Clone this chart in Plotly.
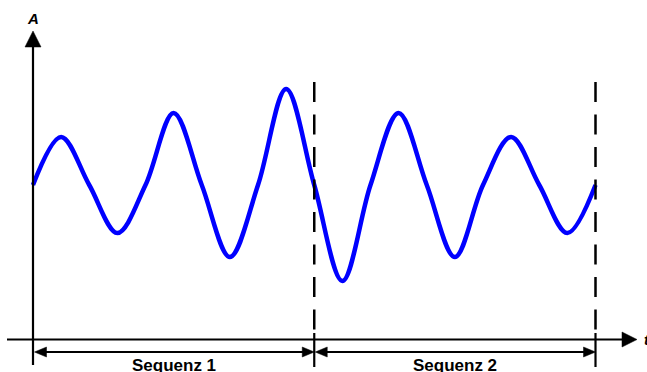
import plotly.graph_objects as go

# ---- data ----
t_vals = [0, 0.25, 0.5, 0.75, 1.0, 1.25, 1.5, 1.75, 2.0, 2.25, 2.5,
          2.75, 3.0, 3.25, 3.5, 3.75, 4.0, 4.25, 4.5, 4.75, 5.0]
a_vals = [0, 2, 0, -2, 0, 3, 0, -3, 0, 4, 0,
          -4, 0, 3, 0, -3, 0, 2, 0, -2, 0]
seq_bounds = [0, 2.5, 5.0]
seq_labels = ["Sequenz 1", "Sequenz 2"]
y_label = "A"
x_label = "t"

# ---- layout geometry ----
W, H = 647, 372
PX_X = 112.5   # pixels per x unit
PX_Y = 24.0    # pixels per y unit
X0 = -33 / PX_X
X1 = X0 + W / PX_X
Y1 = 185 / PX_Y
Y0 = Y1 - H / PX_Y


def dx(p):
    return p / PX_X


def dy(p):
    return p / PX_Y


def ypix(py):
    return Y1 - py / PX_Y


def xpix(px):
    return X0 + px / PX_X


BLACK = "#000000"
FONT = "Liberation Sans, Arial, sans-serif"

fig = go.Figure()
fig.add_trace(go.Scatter(
    x=t_vals, y=a_vals, mode="lines",
    line=dict(color="#0000FF", width=4.5, shape="spline", smoothing=1.0),
    hoverinfo="skip", showlegend=False))

shapes = []


def seg(x0, y0, x1, y1, width=2, dash="solid"):
    shapes.append(dict(type="line", xref="x", yref="y", x0=x0, y0=y0,
                       x1=x1, y1=y1, line=dict(color=BLACK, width=width, dash=dash),
                       layer="above"))


def tri(pts):
    path = "M " + " L ".join(f"{a},{b}" for a, b in pts) + " Z"
    shapes.append(dict(type="path", xref="x", yref="y", path=path,
                       fillcolor=BLACK, line=dict(color=BLACK, width=0.5),
                       layer="above"))


x_axis_y = ypix(339.5)
y_axis_top = ypix(31)
# y axis
seg(0, ypix(365), 0, ypix(44), width=2.2)
tri([(0, y_axis_top), (-dx(8), y_axis_top - dy(16)), (dx(8), y_axis_top - dy(16))])
# x axis
x_tip = xpix(637)
seg(xpix(7), x_axis_y, x_tip - dx(10), x_axis_y, width=2.2)
tri([(x_tip, x_axis_y), (x_tip - dx(15), x_axis_y + dy(7.5)), (x_tip - dx(15), x_axis_y - dy(7.5))])

# sequence boundaries (dashed) and extension lines
for b in seq_bounds[1:]:
    seg(b, ypix(82), b, ypix(330), width=2.5, dash="20px,12.5px")
    seg(b, ypix(333), b, ypix(367), width=2.2)

# dimension arrows
dim_y = ypix(352)
for i in range(len(seq_bounds) - 1):
    a, b = seq_bounds[i], seq_bounds[i + 1]
    a2 = a + dx(1.5) if i == 0 else a + dx(1)
    seg(a2 + dx(8), dim_y, b - dx(8), dim_y, width=2.2)
    tri([(a2, dim_y), (a2 + dx(12), dim_y + dy(5)), (a2 + dx(12), dim_y - dy(5))])
    tri([(b, dim_y), (b - dx(12), dim_y + dy(5)), (b - dx(12), dim_y - dy(5))])

annotations = []
for i, lab in enumerate(seq_labels):
    mid = (seq_bounds[i] + seq_bounds[i + 1]) / 2
    annotations.append(dict(x=mid, y=ypix(365), xref="x", yref="y", text=f"<b>{lab}</b>",
                            showarrow=False, xanchor="center", yanchor="middle",
                            font=dict(family=FONT, size=17, color=BLACK)))
annotations.append(dict(x=0, y=ypix(18), xref="x", yref="y", text=f"<b><i>{y_label}</i></b>",
                        showarrow=False, xanchor="center", yanchor="middle",
                        font=dict(family=FONT, size=15, color=BLACK)))
annotations.append(dict(x=xpix(642), y=x_axis_y, xref="x", yref="y", text=f"<b><i>{x_label}</i></b>",
                        showarrow=False, xanchor="left", yanchor="middle",
                        font=dict(family=FONT, size=15, color=BLACK)))

fig.update_layout(
    width=W, height=H,
    margin=dict(l=0, r=0, t=0, b=0),
    paper_bgcolor="white", plot_bgcolor="white",
    xaxis=dict(range=[X0, X1], visible=False, fixedrange=True),
    yaxis=dict(range=[Y0, Y1], visible=False, fixedrange=True),
    shapes=shapes, annotations=annotations, showlegend=False,
)

fig.write_html(
    "out.html",
    config={"displayModeBar": False, "staticPlot": True},
    post_script="document.body.style.margin='0';document.body.style.overflow='hidden';",
)
